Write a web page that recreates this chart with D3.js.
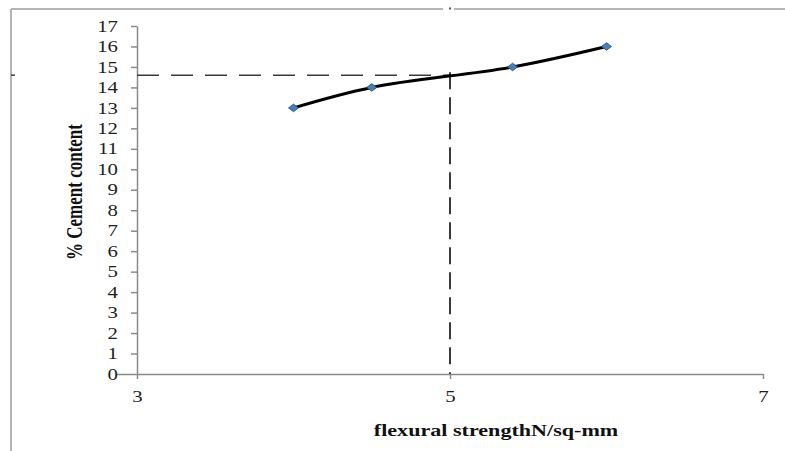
<!DOCTYPE html>
<html>
<head>
<meta charset="utf-8">
<script src="https://cdn.jsdelivr.net/npm/d3@7"></script>
<style>
  html, body { margin: 0; padding: 0; background: #fff; }
  svg { display: block; }
  text { font-family: "Liberation Serif", "Times New Roman", serif; }
</style>
</head>
<body>
<svg id="chart" width="785" height="451"></svg>
<script>
// ---- data ----
const strength = [4, 4.5, 5.4, 6];          // flexural strength N/sq-mm
const cement = [13, 14, 15, 16];            // % cement content
const xTickValues = [3, 5, 7];
const yTickValues = d3.range(0, 18);        // 0..17
const refStrength = 5;                      // dashed reference
const refCement = 14.6;
const xTitle = "flexural strengthN/sq-mm";
const yTitle = "% Cement content";

// ---- layout ----
const W = 785, H = 451;
const plot = { left: 137, right: 763, top: 26, bottom: 374 };
const frame = { left: 11, top: 9 };
const stretch = 1.3;

const svg = d3.select("#chart");

const x = d3.scaleLinear().domain([3, 7]).range([plot.left, plot.right]);
const y = d3.scaleLinear().domain([0, 17]).range([plot.bottom, plot.top]);

// outer frame (left and top edges)
const frameColor = "#b4b4b4";
svg.append("line")
  .attr("x1", frame.left).attr("x2", frame.left)
  .attr("y1", frame.top).attr("y2", H)
  .attr("stroke", frameColor).attr("stroke-width", 2);
svg.append("line")
  .attr("x1", frame.left).attr("x2", x(refStrength) - 7)
  .attr("y1", frame.top).attr("y2", frame.top)
  .attr("stroke", frameColor).attr("stroke-width", 2);
svg.append("line")
  .attr("x1", x(refStrength) + 4).attr("x2", W)
  .attr("y1", frame.top).attr("y2", frame.top)
  .attr("stroke", frameColor).attr("stroke-width", 2);
svg.append("rect")
  .attr("x", x(refStrength) - 1).attr("y", frame.top - 1.5)
  .attr("width", 2).attr("height", 2).attr("fill", "#555");

// axes
const axisColor = "#8a8a8a";
const yAxis = svg.append("g")
  .attr("transform", `translate(${plot.left},0)`)
  .call(d3.axisLeft(y).tickValues(yTickValues).tickFormat(d3.format("d"))
        .tickSize(6).tickSizeOuter(0).tickPadding(8));
const xAxis = svg.append("g")
  .attr("transform", `translate(0,${plot.bottom})`)
  .call(d3.axisBottom(x).tickValues(xTickValues).tickFormat(d3.format("d"))
        .tickSize(5).tickSizeOuter(0).tickPadding(12));

[yAxis, xAxis].forEach(g => {
  g.select(".domain").attr("stroke", axisColor).attr("stroke-width", 1.5);
  g.selectAll(".tick line").attr("stroke", axisColor).attr("stroke-width", 1.5);
  g.selectAll(".tick text")
    .attr("fill", "#1e1e1e")
    .style("font-family", '"Liberation Serif", serif')
    .style("font-size", "16px");
});
// the zero tick runs a little further left, as in the reference
yAxis.selectAll(".tick").filter(d => d === 0).select("line").attr("x2", -20);
yAxis.selectAll(".tick text")
  .attr("x", -19 / stretch)
  .attr("transform", `scale(${stretch},1)`);
xAxis.selectAll(".tick text")
  .attr("transform", `scale(${stretch},1)`);

// reference dashed lines
const refColor = "#3a3a3a";
svg.append("line")
  .attr("x1", plot.left).attr("x2", x(refStrength))
  .attr("y1", y(refCement)).attr("y2", y(refCement))
  .attr("stroke", refColor).attr("stroke-width", 1.5)
  .attr("stroke-dasharray", "22,12");
svg.append("line")
  .attr("x1", frame.left).attr("x2", frame.left + 4)
  .attr("y1", y(refCement)).attr("y2", y(refCement))
  .attr("stroke", refColor).attr("stroke-width", 1.5);
svg.append("line")
  .attr("x1", x(refStrength)).attr("x2", x(refStrength))
  .attr("y1", y(refCement) - 3).attr("y2", y(0))
  .attr("stroke", refColor).attr("stroke-width", 2)
  .attr("stroke-dasharray", "17,8");

// data curve
const pts = strength.map((s, i) => [s, cement[i]]);
svg.append("path")
  .datum(pts)
  .attr("fill", "none")
  .attr("stroke", "#000")
  .attr("stroke-width", 3)
  .attr("stroke-linecap", "round")
  .attr("d", d3.line().x(d => x(d[0])).y(d => y(d[1])).curve(d3.curveCatmullRom.alpha(0.5)));

// diamond markers
svg.append("g").selectAll("path")
  .data(pts)
  .join("path")
  .attr("transform", d => `translate(${x(d[0])},${y(d[1])}) scale(1.25,0.95)`)
  .attr("d", "M0,-4 L4,0 L0,4 L-4,0 Z")
  .attr("fill", "#4a7ebb")
  .attr("stroke", "#2f527c")
  .attr("stroke-width", 0.8);

// axis titles
svg.append("text")
  .attr("transform", `translate(${(plot.left + plot.right) / 2 + 46},436) scale(${stretch},1)`)
  .attr("text-anchor", "middle")
  .style("font-size", "17px")
  .style("font-weight", "bold")
  .attr("fill", "#111")
  .text(xTitle);

svg.append("text")
  .attr("transform", `translate(82,${(plot.top + plot.bottom) / 2 - 8}) scale(${stretch},1) rotate(-90)`)
  .attr("text-anchor", "middle")
  .style("font-size", "17px")
  .style("font-weight", "bold")
  .attr("fill", "#111")
  .text(yTitle);
</script>
</body>
</html>
